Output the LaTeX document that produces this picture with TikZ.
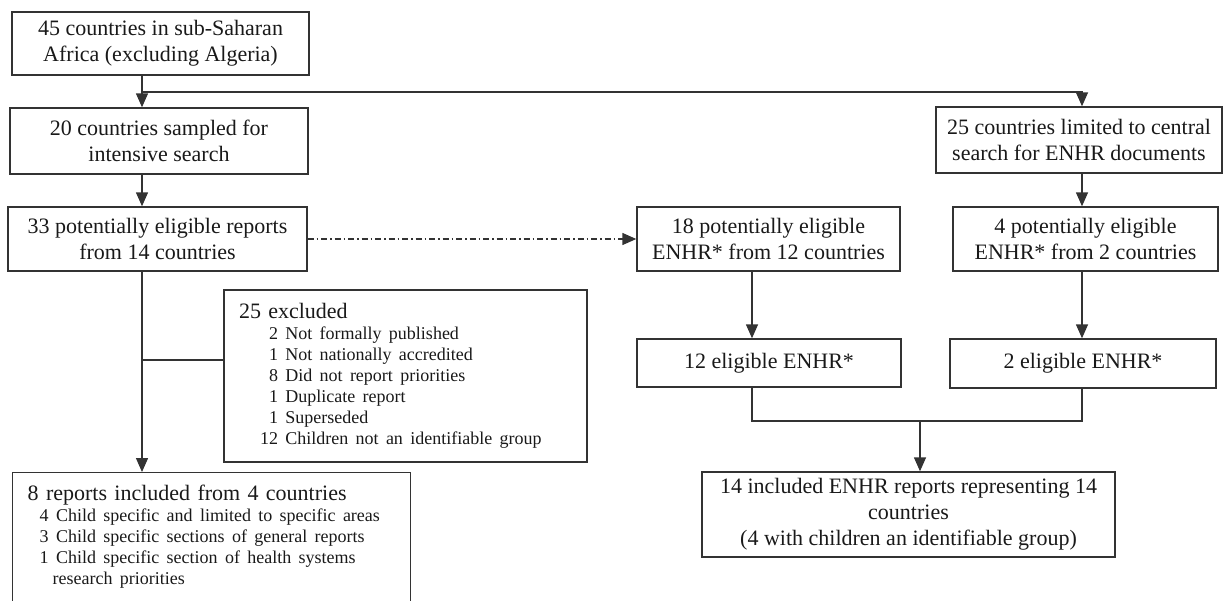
\documentclass[tikz,border=0pt]{standalone}
\usepackage{fontspec}
\setmainfont{Liberation Serif}
\usetikzlibrary{arrows.meta}
\usetikzlibrary{calc}
\tikzset{box/.style={draw=black!80, line width=1.4pt, align=center,
        inner sep=0pt, text=black!90, font=\fontsize{22}{26}\selectfont}}
\tikzset{arr/.style={draw=black!80, line width=1.4pt,
        -{Triangle[width=12pt,length=14pt]}}}
\tikzset{link/.style={draw=black!80, line width=1.4pt}}
\tikzset{dashdot/.style={dash pattern=on 6pt off 3pt on 1.5pt off 3pt}}
\newcommand{\exline}[2]{\mbox{\hspace*{21pt}\makebox[18pt][r]{#1}\ #2}}
\newcommand{\inline}[2]{\mbox{\hspace*{#1}#2}}

\begin{document}
\begin{tikzpicture}[x=1pt,y=-1pt]
    \useasboundingbox (0,0) rectangle (1224,600);

    % left column
    \node[box, minimum width=297pt, minimum height=63pt] (africa) at (160.5,43.5)
    {45 countries in sub-Saharan\\Africa (excluding Algeria)};
    \node[box, minimum width=298pt, minimum height=66pt] (sampled) at (159,141)
    {20 countries sampled for\\intensive search};
    \node[box, minimum width=299pt, minimum height=64pt] (potential) at (157.5,239)
    {33 potentially eligible reports\\from 14 countries};
    \node[box, align=left, text width=333pt, inner xsep=15pt, minimum height=172pt] (excluded) at (405.5,376)
    {25 excluded\par
        \fontsize{18}{21}\selectfont
        \exline{2}{Not formally published}\\
        \exline{1}{Not nationally accredited}\\
        \exline{8}{Did not report priorities}\\
        \exline{1}{Duplicate report}\\
        \exline{1}{Superseded}\\
        \exline{12}{Children not an identifiable group}\par};
    \node[box, align=left, text width=368pt, inner xsep=15pt, inner ysep=12pt, anchor=north west] (reports) at (12,472)
    {8 reports included from 4 countries\par
        \fontsize{18}{21}\selectfont
        \inline{12pt}{4 Child specific and limited to specific areas}\\
        \inline{12pt}{3 Child specific sections of general reports}\\
        \inline{12pt}{1 Child specific section of health systems}\\
        \inline{25pt}{research priorities}\rule[-40pt]{0pt}{0pt}\par};

    % right columns
    \node[box, minimum width=286pt, minimum height=66pt] (central) at (1079,140)
    {25 countries limited to central\\search for ENHR documents};
    \node[box, minimum width=263pt, minimum height=64pt] (enhra) at (768.5,239)
    {18 potentially eligible\\ENHR* from 12 countries};
    \node[box, minimum width=265pt, minimum height=64pt] (enhrb) at (1085.5,239)
    {4 potentially eligible\\ENHR* from 2 countries};
    \node[box, minimum width=264pt, minimum height=48pt] (eliga) at (769,363) {12 eligible ENHR*};
    \node[box, minimum width=266pt, minimum height=49pt] (eligb) at (1083,363.5) {2 eligible ENHR*};
    \node[box, minimum width=413pt, minimum height=85pt] (included) at (908.5,514.5)
    {14 included ENHR reports representing 14\\countries\\(4 with children an identifiable group)};

    \coordinate (lx) at (142,0);
    \coordinate (mx) at (752,0);
    \coordinate (rx) at (1082,0);
    \coordinate (split) at (142,92);
    \coordinate (branch) at (142,360);
    \coordinate (merge) at (920,421);

    \draw[arr] (africa.south -| lx) -- (sampled.north -| lx);
    \draw[arr] (split) -| (central.north -| rx);
    \draw[arr] (sampled.south -| lx) -- (potential.north -| lx);
    \draw[arr] (potential.south -| lx) -- (reports.north -| lx);
    \draw[link] (branch) -- (branch -| excluded.west);
    \draw[arr, dashdot] (potential.east) -- (enhra.west);

    \draw[arr] (central.south -| rx) -- (enhrb.north -| rx);
    \draw[arr] (enhra.south -| mx) -- (eliga.north -| mx);
    \draw[arr] (enhrb.south -| rx) -- (eligb.north -| rx);
    \draw[link] (eliga.south -| mx) |- (merge) -| (eligb.south -| rx);
    \draw[arr] (merge) -- (included.north -| merge);
\end{tikzpicture}
\end{document}
